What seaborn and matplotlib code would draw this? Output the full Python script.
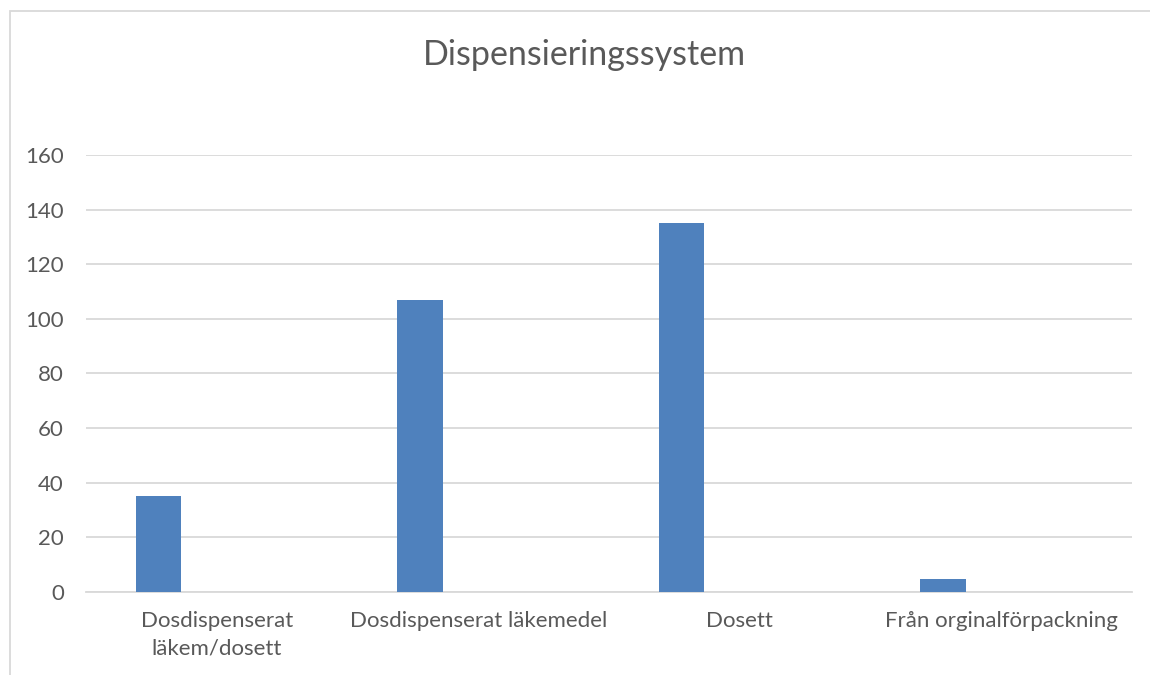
import matplotlib
matplotlib.use("Agg")
import matplotlib.pyplot as plt
import seaborn as sns
from matplotlib.patches import Rectangle

# Data
categories = ["Dosdispenserat\nläkem/dosett", "Dosdispenserat läkemedel", "Dosett", "Från orginalförpackning"]
values = [35, 107, 135, 4.5]
y_ticks = [0, 20, 40, 60, 80, 100, 120, 140, 160]

TEXT_COLOR = "#595959"
GRID_COLOR = "#d9d9d9"
BAR_COLOR = "#4f81bd"

sns.set_theme(style="white")
plt.rcParams["font.family"] = ["Lato", "DejaVu Sans"]

fig = plt.figure(figsize=(11.5, 6.75), dpi=100)
ax = fig.add_axes([0.0748, 0.1234, 0.9096, 0.647])

sns.barplot(x=categories, y=values, color=BAR_COLOR, width=0.173,
            saturation=1, ax=ax, zorder=3)

# bars sit left of the category centre (empty second series in the original)
for patch in ax.patches:
    patch.set_x(patch.get_x() - 0.223)
    patch.set_edgecolor("none")

ax.set_xlim(-0.5, 3.5)
ax.set_ylim(0, 160)
ax.set_yticks(y_ticks)
ax.yaxis.grid(True, color=GRID_COLOR, linewidth=1.3, zorder=0)
ax.xaxis.grid(False)
for side in ["top", "right", "left"]:
    ax.spines[side].set_visible(False)
ax.spines["bottom"].set_color(GRID_COLOR)
ax.spines["bottom"].set_linewidth(1.3)

ax.tick_params(axis="y", labelsize=16, colors=TEXT_COLOR, length=0, pad=16)
ax.tick_params(axis="x", labelsize=16, colors=TEXT_COLOR, length=0, pad=14)
for lbl in ax.get_xticklabels():
    lbl.set_linespacing(1.45)
ax.set_xlabel("")
ax.set_ylabel("")

fig.text(0.508, 0.918, "Dispensieringssystem", ha="center", va="center",
         fontsize=24.5, color=TEXT_COLOR)

# chart area frame
fig.patches.append(Rectangle((10 / 1150, -0.01), 1.05, 1 - 11 / 675 + 0.01,
                             transform=fig.transFigure, fill=False,
                             edgecolor=GRID_COLOR, linewidth=1.3))

fig.savefig("out.png", dpi=100)
